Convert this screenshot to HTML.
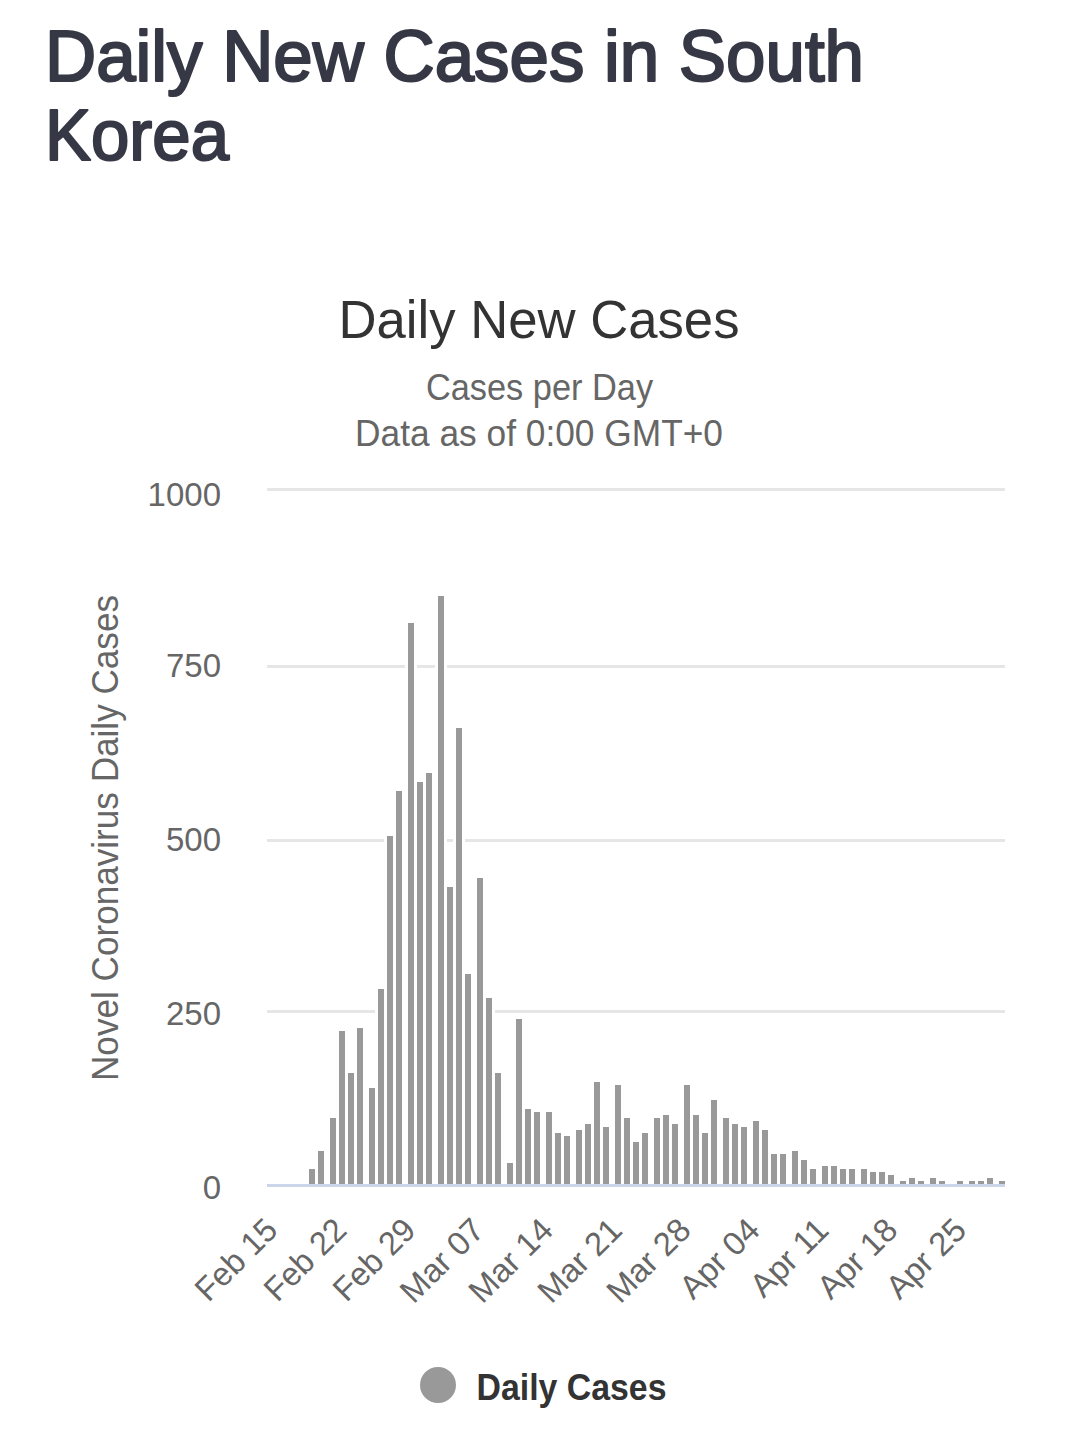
<!DOCTYPE html>
<html><head><meta charset="utf-8"><style>
html,body{margin:0;padding:0;background:#fff;width:1080px;height:1451px;overflow:hidden}
svg{position:absolute;left:0;top:0;display:block}
text{font-family:"Liberation Sans",sans-serif}
</style></head><body>
<svg width="1080" height="1451" viewBox="0 0 1080 1451">
<g fill="#363845" stroke="#363845" stroke-width="2.2" stroke-linejoin="round" font-size="73">
<text x="45" y="81" textLength="819" lengthAdjust="spacingAndGlyphs">Daily New Cases in South</text>
<text x="45" y="160" textLength="184" lengthAdjust="spacingAndGlyphs">Korea</text>
</g>
<text x="539" y="338" text-anchor="middle" fill="#333333" font-size="54" textLength="401" lengthAdjust="spacingAndGlyphs">Daily New Cases</text>
<text x="539.5" y="400" text-anchor="middle" fill="#666666" font-size="36" textLength="227.2" lengthAdjust="spacingAndGlyphs">Cases per Day</text>
<text x="539" y="446" text-anchor="middle" fill="#666666" font-size="36" textLength="368" lengthAdjust="spacingAndGlyphs">Data as of 0:00 GMT+0</text>
<g fill="#e6e6e6" shape-rendering="crispEdges"><rect x="267" y="488" width="738" height="3"/><rect x="267" y="665" width="738" height="3"/><rect x="267" y="839" width="738" height="3"/><rect x="267" y="1010" width="738" height="3"/></g>
<g fill="#ffffff" shape-rendering="crispEdges"><rect x="306" y="1166" width="12" height="18"/><rect x="315" y="1148" width="12" height="36"/><rect x="327" y="1115" width="12" height="69"/><rect x="336" y="1028" width="12" height="156"/><rect x="345" y="1070" width="12" height="114"/><rect x="354" y="1025" width="12" height="159"/><rect x="366" y="1085" width="12" height="99"/><rect x="375" y="986" width="12" height="198"/><rect x="384" y="833" width="12" height="351"/><rect x="393" y="788" width="12" height="396"/><rect x="405" y="620" width="12" height="564"/><rect x="414" y="779" width="12" height="405"/><rect x="423" y="770" width="12" height="414"/><rect x="435" y="593" width="12" height="591"/><rect x="444" y="884" width="12" height="300"/><rect x="453" y="725" width="12" height="459"/><rect x="462" y="971" width="12" height="213"/><rect x="474" y="875" width="12" height="309"/><rect x="483" y="995" width="12" height="189"/><rect x="492" y="1070" width="12" height="114"/><rect x="504" y="1160" width="12" height="24"/><rect x="513" y="1016" width="12" height="168"/><rect x="522" y="1106" width="12" height="78"/><rect x="531" y="1109" width="12" height="75"/><rect x="543" y="1109" width="12" height="75"/><rect x="552" y="1130" width="12" height="54"/><rect x="561" y="1133" width="12" height="51"/><rect x="573" y="1127" width="12" height="57"/><rect x="582" y="1121" width="12" height="63"/><rect x="591" y="1079" width="12" height="105"/><rect x="600" y="1124" width="12" height="60"/><rect x="612" y="1082" width="12" height="102"/><rect x="621" y="1115" width="12" height="69"/><rect x="630" y="1139" width="12" height="45"/><rect x="639" y="1130" width="12" height="54"/><rect x="651" y="1115" width="12" height="69"/><rect x="660" y="1112" width="12" height="72"/><rect x="669" y="1121" width="12" height="63"/><rect x="681" y="1082" width="12" height="102"/><rect x="690" y="1112" width="12" height="72"/><rect x="699" y="1130" width="12" height="54"/><rect x="708" y="1097" width="12" height="87"/><rect x="720" y="1115" width="12" height="69"/><rect x="729" y="1121" width="12" height="63"/><rect x="738" y="1124" width="12" height="60"/><rect x="750" y="1118" width="12" height="66"/><rect x="759" y="1127" width="12" height="57"/><rect x="768" y="1151" width="12" height="33"/><rect x="777" y="1151" width="12" height="33"/><rect x="789" y="1148" width="12" height="36"/><rect x="798" y="1157" width="12" height="27"/><rect x="807" y="1166" width="12" height="18"/><rect x="819" y="1163" width="12" height="21"/><rect x="828" y="1163" width="12" height="21"/><rect x="837" y="1166" width="12" height="18"/><rect x="846" y="1166" width="12" height="18"/><rect x="858" y="1166" width="12" height="18"/><rect x="867" y="1169" width="12" height="15"/><rect x="876" y="1169" width="12" height="15"/><rect x="885" y="1172" width="12" height="12"/><rect x="897" y="1178" width="12" height="6"/><rect x="906" y="1175" width="12" height="9"/><rect x="915" y="1178" width="12" height="6"/><rect x="927" y="1175" width="12" height="9"/><rect x="936" y="1178" width="12" height="6"/><rect x="954" y="1178" width="12" height="6"/><rect x="966" y="1178" width="12" height="6"/><rect x="975" y="1178" width="12" height="6"/><rect x="984" y="1175" width="12" height="9"/><rect x="996" y="1178" width="12" height="6"/></g>
<g fill="#999999" shape-rendering="crispEdges"><rect x="309" y="1169" width="6" height="15"/><rect x="318" y="1151" width="6" height="33"/><rect x="330" y="1118" width="6" height="66"/><rect x="339" y="1031" width="6" height="153"/><rect x="348" y="1073" width="6" height="111"/><rect x="357" y="1028" width="6" height="156"/><rect x="369" y="1088" width="6" height="96"/><rect x="378" y="989" width="6" height="195"/><rect x="387" y="836" width="6" height="348"/><rect x="396" y="791" width="6" height="393"/><rect x="408" y="623" width="6" height="561"/><rect x="417" y="782" width="6" height="402"/><rect x="426" y="773" width="6" height="411"/><rect x="438" y="596" width="6" height="588"/><rect x="447" y="887" width="6" height="297"/><rect x="456" y="728" width="6" height="456"/><rect x="465" y="974" width="6" height="210"/><rect x="477" y="878" width="6" height="306"/><rect x="486" y="998" width="6" height="186"/><rect x="495" y="1073" width="6" height="111"/><rect x="507" y="1163" width="6" height="21"/><rect x="516" y="1019" width="6" height="165"/><rect x="525" y="1109" width="6" height="75"/><rect x="534" y="1112" width="6" height="72"/><rect x="546" y="1112" width="6" height="72"/><rect x="555" y="1133" width="6" height="51"/><rect x="564" y="1136" width="6" height="48"/><rect x="576" y="1130" width="6" height="54"/><rect x="585" y="1124" width="6" height="60"/><rect x="594" y="1082" width="6" height="102"/><rect x="603" y="1127" width="6" height="57"/><rect x="615" y="1085" width="6" height="99"/><rect x="624" y="1118" width="6" height="66"/><rect x="633" y="1142" width="6" height="42"/><rect x="642" y="1133" width="6" height="51"/><rect x="654" y="1118" width="6" height="66"/><rect x="663" y="1115" width="6" height="69"/><rect x="672" y="1124" width="6" height="60"/><rect x="684" y="1085" width="6" height="99"/><rect x="693" y="1115" width="6" height="69"/><rect x="702" y="1133" width="6" height="51"/><rect x="711" y="1100" width="6" height="84"/><rect x="723" y="1118" width="6" height="66"/><rect x="732" y="1124" width="6" height="60"/><rect x="741" y="1127" width="6" height="57"/><rect x="753" y="1121" width="6" height="63"/><rect x="762" y="1130" width="6" height="54"/><rect x="771" y="1154" width="6" height="30"/><rect x="780" y="1154" width="6" height="30"/><rect x="792" y="1151" width="6" height="33"/><rect x="801" y="1160" width="6" height="24"/><rect x="810" y="1169" width="6" height="15"/><rect x="822" y="1166" width="6" height="18"/><rect x="831" y="1166" width="6" height="18"/><rect x="840" y="1169" width="6" height="15"/><rect x="849" y="1169" width="6" height="15"/><rect x="861" y="1169" width="6" height="15"/><rect x="870" y="1172" width="6" height="12"/><rect x="879" y="1172" width="6" height="12"/><rect x="888" y="1175" width="6" height="9"/><rect x="900" y="1181" width="6" height="3"/><rect x="909" y="1178" width="6" height="6"/><rect x="918" y="1181" width="6" height="3"/><rect x="930" y="1178" width="6" height="6"/><rect x="939" y="1181" width="6" height="3"/><rect x="957" y="1181" width="6" height="3"/><rect x="969" y="1181" width="6" height="3"/><rect x="978" y="1181" width="6" height="3"/><rect x="987" y="1178" width="6" height="6"/><rect x="999" y="1181" width="6" height="3"/></g>
<rect x="267" y="1184" width="738" height="3" fill="#ccd6eb" shape-rendering="crispEdges"/>
<g fill="#666666" font-size="33"><text x="221" y="506" text-anchor="end">1000</text><text x="221" y="677" text-anchor="end">750</text><text x="221" y="851" text-anchor="end">500</text><text x="221" y="1025" text-anchor="end">250</text><text x="221" y="1199" text-anchor="end">0</text></g>
<text transform="translate(118.3,838) rotate(-90)" text-anchor="middle" fill="#666666" font-size="36" textLength="486" lengthAdjust="spacingAndGlyphs">Novel Coronavirus Daily Cases</text>
<g fill="#666666" font-size="33"><text transform="translate(279.5,1232) rotate(-45)" text-anchor="end" textLength="100.3" lengthAdjust="spacingAndGlyphs">Feb 15</text><text transform="translate(348.4,1232) rotate(-45)" text-anchor="end" textLength="100.3" lengthAdjust="spacingAndGlyphs">Feb 22</text><text transform="translate(417.3,1232) rotate(-45)" text-anchor="end" textLength="100.3" lengthAdjust="spacingAndGlyphs">Feb 29</text><text transform="translate(486.2,1232) rotate(-45)" text-anchor="end">Mar 07</text><text transform="translate(555.0,1232) rotate(-45)" text-anchor="end">Mar 14</text><text transform="translate(623.9,1232) rotate(-45)" text-anchor="end">Mar 21</text><text transform="translate(692.8,1232) rotate(-45)" text-anchor="end">Mar 28</text><text transform="translate(761.7,1232) rotate(-45)" text-anchor="end">Apr 04</text><text transform="translate(830.6,1232) rotate(-45)" text-anchor="end">Apr 11</text><text transform="translate(899.4,1232) rotate(-45)" text-anchor="end">Apr 18</text><text transform="translate(968.3,1232) rotate(-45)" text-anchor="end">Apr 25</text></g>
<circle cx="438" cy="1385" r="18" fill="#999999"/>
<text x="476.5" y="1400" fill="#333333" font-weight="bold" font-size="36" textLength="190" lengthAdjust="spacingAndGlyphs">Daily Cases</text>
</svg>
</body></html>
